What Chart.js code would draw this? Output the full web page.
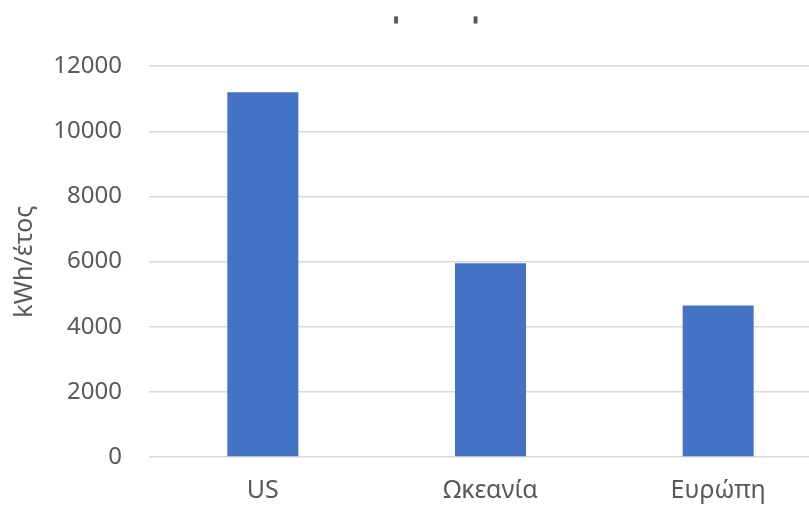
<!DOCTYPE html>
<html>
<head>
<meta charset="utf-8">
<script src="https://cdn.jsdelivr.net/npm/chart.js@4"></script>
<style>
    html, body { margin: 0; padding: 0; background: #fff; overflow: hidden; }
    #wrap { width: 809px; height: 505px; overflow: hidden; }
</style>
</head>
<body>
<div id="wrap">
    <canvas id="energyChart" width="832" height="505"></canvas>
</div>
<script>
// chart data
const regions = ["US", "Ωκεανία", "Ευρώπη"];
const consumption = [11200, 5950, 4650];
const yAxisLabel = "kWh/έτος";
// remains of the cropped title at the top of the original picture
const titleText = " ".repeat(11) + "█" + " ".repeat(21) + "█";

const textColor = "#595959";

document.addEventListener("DOMContentLoaded", () => {
    const ctx = document.getElementById("energyChart").getContext("2d");

    new Chart(ctx, {
        type: "bar",
        data: {
            labels: regions,
            datasets: [{
                label: yAxisLabel,
                data: consumption,
                backgroundColor: "#4472C4",
                borderWidth: 0,
                barPercentage: 0.312,
                categoryPercentage: 1.0
            }]
        },
        options: {
            responsive: false,
            animation: false,
            layout: {
                padding: { left: 0, right: 0, top: 0, bottom: 0 }
            },
            plugins: {
                legend: { display: false },
                tooltip: { enabled: false },
                title: {
                    display: true,
                    text: titleText,
                    color: "#555555",
                    font: { family: "DejaVu Sans Mono", size: 6 },
                    padding: { top: 17, bottom: 42 }
                }
            },
            scales: {
                x: {
                    afterFit: scale => { scale.height = 48; },
                    grid: { display: false, drawTicks: false },
                    border: { display: false },
                    ticks: {
                        color: textColor,
                        padding: 19,
                        font: { family: "Noto Sans", size: 25 }
                    }
                },
                y: {
                    min: 0,
                    max: 12000,
                    afterFit: scale => { scale.width = 149; },
                    ticks: {
                        stepSize: 2000,
                        color: textColor,
                        padding: 27,
                        font: { family: "Noto Sans", size: 24 },
                        callback: value => String(value)
                    },
                    grid: {
                        color: "#d9d9d9",
                        lineWidth: 1.5,
                        drawTicks: false
                    },
                    border: { display: false },
                    title: {
                        display: true,
                        text: yAxisLabel,
                        color: textColor,
                        font: { family: "Noto Sans", size: 25 },
                        padding: { top: 10, bottom: 10 }
                    }
                }
            }
        }
    });
});
</script>
</body>
</html>
